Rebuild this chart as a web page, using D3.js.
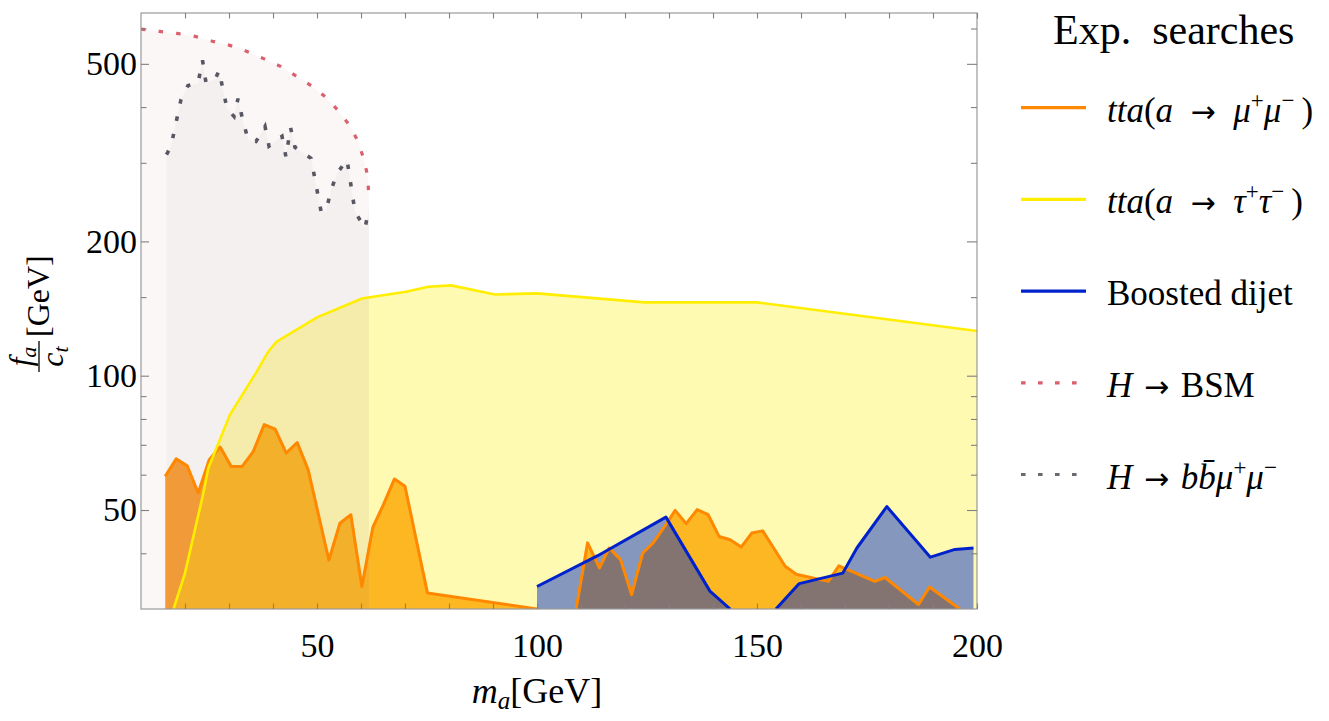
<!DOCTYPE html>
<html><head><meta charset="utf-8">
<script src="https://cdn.jsdelivr.net/npm/d3@7"></script>
<style>body{margin:0;background:#fff;overflow:hidden} svg text{font-family:"Liberation Serif","DejaVu Serif",serif}</style>
</head><body>
<script>
// ---------------- data ----------------
const muMuMassA=[15.5,18,20.5,23,25.5,28,30.5,33,35.5,38,40.5,43,45.5,48,52.7,55.2,57.7,60.2,62.7,65.1,67.6,70,75.1,100];
const muMuLimitA=[59.5,65.1,62.8,54.6,64.8,69.2,62.6,62.6,67.6,77.7,75.9,67.1,70.8,61.5,38.6,46.7,48.8,33.7,45.8,51.4,58.7,56.5,32.6,30];
const muMuMassB=[108.9,111.5,114.2,116.4,119,121.5,124,126.4,129.5,131.4,133.9,136.4,138.9,141.4,143.9,146.4,148.8,151.3,156.4,158.9,166.2,168.6,176.8,179.1,186.7,189.2,196.1];
const muMuLimitB=[30,42.2,37.1,41.1,38.7,32.3,40,42.2,46.7,49.9,46.6,50.1,48.8,43.6,42.9,41.3,44.4,44.9,37.4,35.9,34.6,37.5,34.6,35.3,30.7,33.6,30];
const tauTauMass=[17.4,20,21.9,24,25.3,27.6,30.2,33.25,36.3,38.9,40.8,50,60.2,70.2,75.3,80.5,90.4,100,124.5,150,200];
const tauTauLimit=[30,36.1,43.6,53.6,62.1,70.6,81.7,91.4,102.1,113.2,119.2,135.1,149,154.2,158.2,159.4,152.1,152.9,146,146,125.9];
const dijetMassA=[100,113.8,129.3,139.3,143.9];
const dijetLimitA=[33.7,39.5,48.2,32.9,30];
const dijetMassB=[154.3,159.6,169.5,172.7,179.5,189.4,195,199.2];
const dijetLimitB=[30,34.2,36.1,41.1,50.9,39.2,40.8,41.1];
const bsmMass=[10,14.2,18.2,22.3,26.2,30.2,34.1,38,41.8,45.2,48.8,52,54.8,57.3,59.2,60.5,61.5,61.8];
const bsmLimit=[598,591,585,576,562,550,533,513,493,470,446,421,393,365,337,309,281,250];
const bbMuMuMass=[15.8,16.82,19.09,20.68,22.95,23.98,24.77,26.82,27.73,29.55,31.14,32.05,33.18,34.32,36.14,38.18,39.09,40.45,42.05,42.95,43.98,45.0,46.59,48.64,50.91,52.05,53.18,54.55,56.82,58.64,60.91,61.82];
const bbMuMuLimit=[313,327,416,447,452,509,454,461,483,397,381,418,372,339,335,362,327,335,344,309,360,325,317,307,234,234,260,284,305,233,214,238];

const xTicks=[20,30,40,50,60,70,80,90,100,110,120,130,140,150,160,170,180,190,200];
const xLabels=[50,100,150,200];
const yMajor=[50,100,200,500];
const yMinor=[40,60,70,80,90,150,300,400,600];

const legendTitle="Exp.\u2002searches";
const legendItems=[
  [["tta","i"],["(",""],["a","i"],["\u2002",""],["\u2192","arr"],["\u2002",""],["\u03bc","i"],["+","sup"],["\u03bc","i"],["\u2212","sup"],["\u2009)",""]],
  [["tta","i"],["(",""],["a","i"],["\u2002",""],["\u2192","arr"],["\u2002",""],["\u03c4","i"],["+","sup"],["\u03c4","i"],["\u2212","sup"],["\u2009)",""]],
  [["Boosted dijet",""]],
  [["H","i"],["\u2004",""],["\u2192","arr"],["\u2004BSM",""]],
  [["H","i"],["\u2004",""],["\u2192","arr"],["\u2004",""],["b","i"],["b\u0304","i"],["\u03bc","i"],["+","sup"],["\u03bc","i"],["\u2212","sup"]]
];

// ---------------- setup ----------------
const W=1329,H=721;
const FONT='"Liberation Serif","DejaVu Serif",serif';
const svg=d3.select("body").append("svg").attr("width",W).attr("height",H)
  .style("background","#fff").style("font-family",FONT);

const x=d3.scaleLinear().domain([10,200]).range([141,977]);
const y=d3.scaleLog().domain([30,650]).range([609,13]);

svg.append("defs").append("clipPath").attr("id","plotclip")
  .append("rect").attr("x",141).attr("y",13).attr("width",836).attr("height",596);

const plot=svg.append("g").attr("clip-path","url(#plotclip)");
const area=d3.area().x(d=>x(d[0])).y0(y(30)).y1(d=>y(d[1]));
const line=d3.line().x(d=>x(d[0])).y(d=>y(d[1]));

const muA=d3.zip(muMuMassA,muMuLimitA), muB=d3.zip(muMuMassB,muMuLimitB);
const tau=d3.zip(tauTauMass,tauTauLimit);
const djA=d3.zip(dijetMassA,dijetLimitA), djB=d3.zip(dijetMassB,dijetLimitB);
const bsm=d3.zip(bsmMass,bsmLimit);
const bb=d3.zip(bbMuMuMass,bbMuMuLimit);

// fills
[muA,muB].forEach(d=>plot.append("path").attr("d",area(d)).attr("fill","rgb(250,135,0)").attr("fill-opacity",0.8));
plot.append("path").attr("d",area(tau)).attr("fill","rgb(255,238,0)").attr("fill-opacity",0.3);
[djA,djB].forEach(d=>plot.append("path").attr("d",area(d)).attr("fill","rgb(0,43,200)").attr("fill-opacity",0.48));
plot.append("path").attr("d",area(bsm)).attr("fill","rgb(200,120,120)").attr("fill-opacity",0.06);
plot.append("path").attr("d",area(bb)).attr("fill","rgb(130,120,120)").attr("fill-opacity",0.055);

// lines
[muA,muB].forEach(d=>plot.append("path").attr("d",line(d)).attr("fill","none").attr("stroke","#ff8800").attr("stroke-width",3).attr("stroke-linejoin","round"));
plot.append("path").attr("d",line(tau)).attr("fill","none").attr("stroke","#ffee00").attr("stroke-width",2.6);
[djA,djB].forEach(d=>plot.append("path").attr("d",line(d)).attr("fill","none").attr("stroke","#0022cc").attr("stroke-width",3).attr("stroke-linejoin","round"));
plot.append("path").attr("d",line(bsm)).attr("fill","none").attr("stroke","#d9606c").attr("stroke-width",3.2).attr("stroke-dasharray","4.5 13.2");
plot.append("path").attr("d",line(bb)).attr("fill","none").attr("stroke","#585862").attr("stroke-width",3.6).attr("stroke-dasharray","4.5 13.2");

// frame
svg.append("rect").attr("x",141).attr("y",13).attr("width",836).attr("height",596)
  .attr("fill","none").attr("stroke","#9a9a9a").attr("stroke-width",1.2);

function styleAxis(g){
  g.attr("font-family",null).attr("font-size",null);
  g.select(".domain").remove();
  g.selectAll(".tick line").attr("stroke","#808080").attr("stroke-width",1.1);
  g.selectAll("text").attr("fill","#000").style("font-family",FONT).style("font-size","34px");
}
svg.append("g").attr("transform",`translate(0,${y(30)})`)
  .call(d3.axisBottom(x).tickValues(xTicks).tickSize(-5.5).tickPadding(24).tickFormat(d=>xLabels.includes(d)?String(d):""))
  .call(styleAxis);
svg.append("g").attr("transform",`translate(0,${y(650)})`)
  .call(d3.axisTop(x).tickValues(xTicks).tickSize(-5.5).tickFormat(""))
  .call(styleAxis);
svg.append("g").attr("transform",`translate(${x(10)},0)`)
  .call(d3.axisLeft(y).tickValues(yMajor).tickSize(-8).tickPadding(4).tickFormat(d3.format("d")))
  .call(styleAxis);
svg.append("g").attr("transform",`translate(${x(10)},0)`)
  .call(d3.axisLeft(y).tickValues(yMinor).tickSize(-5.5).tickFormat(""))
  .call(styleAxis);
svg.append("g").attr("transform",`translate(${x(200)},0)`)
  .call(d3.axisRight(y).tickValues(yMajor).tickSize(-10).tickFormat(""))
  .call(styleAxis);
svg.append("g").attr("transform",`translate(${x(200)},0)`)
  .call(d3.axisRight(y).tickValues(yMinor).tickSize(-6).tickFormat(""))
  .call(styleAxis);

// x label
const xl=svg.append("text").attr("x",537).attr("y",703).attr("text-anchor","middle").style("font-size","36px");
xl.append("tspan").attr("font-style","italic").text("m");
xl.append("tspan").attr("font-style","italic").style("font-size","25px").attr("dy",6).text("a");
xl.append("tspan").attr("dy",-6).text("[GeV]");

// y label
const yl=svg.append("g").attr("transform","translate(39,372) rotate(-90)");
yl.append("line").attr("x1",0).attr("x2",31).attr("y1",0).attr("y2",0).attr("stroke","#000").attr("stroke-width",1.3);
const num=yl.append("text").attr("x",15.5).attr("y",-8).attr("text-anchor","middle").style("font-size","31px");
num.append("tspan").attr("font-style","italic").text("f");
num.append("tspan").attr("font-style","italic").style("font-size","22px").attr("dy",5).text("a");
const den=yl.append("text").attr("x",15.5).attr("y",24).attr("text-anchor","middle").style("font-size","32px");
den.append("tspan").attr("font-style","italic").text("c");
den.append("tspan").attr("font-style","italic").style("font-size","22px").attr("dy",5).text("t");
yl.append("text").attr("x",35).attr("y",10).style("font-size","32px").text("[GeV]");

// legend
svg.append("text").attr("x",1053).attr("y",44).style("font-size","42px").text(legendTitle);
const legendColors=["#ff8800","#ffee00","#0022cc","#d9606c","#6a6a72"];
const legendDash=[null,null,null,"4.6 12.4","4.6 12.4"];
legendItems.forEach((segs,i)=>{
  const ly=107.7+i*91.7;
  svg.append("line").attr("x1",1021).attr("x2",1086).attr("y1",ly).attr("y2",ly)
    .attr("stroke",legendColors[i]).attr("stroke-width",3.2).attr("stroke-dasharray",legendDash[i]);
  const t=svg.append("text").attr("x",1107).attr("y",ly+14).style("font-size","35px");
  let shift=0;
  segs.forEach(([s,k])=>{
    const sp=t.append("tspan").text(s);
    if(k==="i") sp.attr("font-style","italic");
    if(k==="arr") sp.style("font-family","DejaVu Sans").style("font-size","30px");
    if(k==="sup"){ sp.style("font-size","23px").attr("dy",-14-shift); shift=-14; }
    else if(shift!==0){ sp.attr("dy",-shift); shift=0; }
  });
});
</script>
</body></html>
